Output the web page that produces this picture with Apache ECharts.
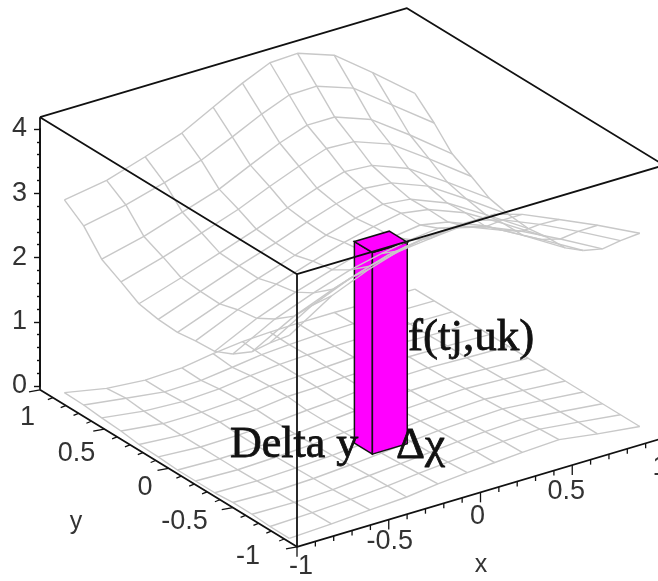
<!DOCTYPE html>
<html>
<head>
<meta charset="utf-8">
<style>html,body{margin:0;padding:0;background:#fff}#c{width:658px;height:581px}</style>
<script src="https://cdn.jsdelivr.net/npm/echarts@6/dist/echarts.min.js"></script>
</head>
<body>
<div id="c"></div>
<script>
// ---- data ----
const xLines = [-1, -0.77, -0.56, -0.36, -0.19, -0.03, 0.12, 0.27, 0.47, 0.68, 0.91];
const yLines = [-0.94, -0.79, -0.65, -0.5, -0.36, -0.21, -0.07, 0.08, 0.23, 0.37, 0.52, 0.66, 0.81];
const upperZ = [
  [3.17,3.59,3.84,4.02,4.09,4.11,4.11,3.98,3.73,3.46,3.14],
  [2.87,3.26,3.51,3.69,3.77,3.81,3.83,3.71,3.47,3.18,2.84],
  [2.56,2.92,3.16,3.35,3.45,3.50,3.54,3.43,3.19,2.89,2.54],
  [2.34,2.69,2.92,3.11,3.22,3.30,3.35,3.25,3.02,2.70,2.33],
  [2.21,2.53,2.76,2.94,3.08,3.17,3.23,3.15,2.92,2.59,2.20],
  [2.19,2.48,2.70,2.89,3.04,3.15,3.23,3.16,2.94,2.59,2.19],
  [2.15,2.40,2.62,2.81,2.98,3.11,3.20,3.15,2.92,2.56,2.15],
  [2.17,2.41,2.63,2.82,3.00,3.15,3.26,3.22,3.00,2.62,2.18],
  [2.23,2.44,2.65,2.85,3.04,3.21,3.34,3.31,3.09,2.70,2.25],
  [2.40,2.59,2.79,2.99,3.20,3.38,3.53,3.51,3.30,2.89,2.42],
  [2.57,2.73,2.93,3.12,3.35,3.56,3.71,3.71,3.50,3.08,2.59],
  [2.92,3.05,3.22,3.40,3.62,3.84,4.01,4.02,3.82,3.38,2.90],
  [3.14,3.25,3.44,3.64,3.90,4.14,4.33,4.35,4.15,3.70,3.18]
];
const lowerZ = [
  [0,0.03,0.07,0.10,0.16,0.20,0.23,0.26,0.29,0.20,0.12],
  [0,0.02,0.05,0.09,0.14,0.18,0.22,0.25,0.27,0.20,0.12],
  [0.02,0.01,0.03,0.08,0.12,0.16,0.20,0.23,0.25,0.19,0.12],
  [0.02,0,0.02,0.06,0.10,0.15,0.19,0.21,0.23,0.18,0.12],
  [0,-0.01,0.01,0.04,0.08,0.13,0.17,0.19,0.21,0.17,0.12],
  [0,-0.02,0,0.03,0.07,0.11,0.15,0.17,0.19,0.16,0.12],
  [0,-0.02,-0.01,0.02,0.06,0.10,0.13,0.16,0.17,0.15,0.12],
  [0.02,-0.02,-0.01,0.02,0.06,0.09,0.13,0.15,0.16,0.14,0.12],
  [0.03,-0.02,0.01,0.03,0.09,0.10,0.13,0.14,0.15,0.14,0.12],
  [0.07,-0.01,-0.01,0.02,0.08,0.10,0.12,0.14,0.15,0.13,0.12],
  [0.09,0,-0.03,0,0.06,0.10,0.12,0.13,0.14,0.13,0.12],
  [0.12,0.03,-0.05,-0.04,0.02,0.08,0.11,0.13,0.14,0.13,0.12],
  [0.13,0,-0.05,-0.03,0.05,0.10,0.12,0.13,0.13,0.12,0.12]
];
const barX = [-0.19, 0];
const barY = [-0.43, -0.29];
const barBase = 0;
const barTop = 3.15;
const boxZ = [-0.06, 4.2];
const xTickLabels = ['-1', '-0.5', '0', '0.5', '1'];
const yTickLabels = ['-1', '-0.5', '0', '0.5', '1'];
const zTicks = [0, 1, 2, 3, 4];
const axisSteps = [-1,-0.9,-0.8,-0.7,-0.6,-0.5,-0.4,-0.3,-0.2,-0.1,0,0.1,0.2,0.3,0.4,0.5,0.6,0.7,0.8,0.9,1];

// ---- view (orthographic projection of the box on the page) ----
function project(x, y, z) {
  const X = x + 1, Y = y + 1;
  return [297 + 183.5 * X - 128.5 * Y, 543 - 54.5 * X - 78.5 * Y - 64 * z];
}
const MESH = '#c8c8c8', INK = '#111', TXT = '#333';
const SANS = '"Liberation Sans", Arial, sans-serif', SERIF = '"Liberation Serif", serif';
const xLabelOff = [[4,20],[1,22],[-3,24],[-6,26],[-4,30]];
const yLabelOff = [[-37,10],[-25,14],[-16,19],[-9,24],[-5,28]];

function lineSeries(pts, color, width, z) {
  return {type:'line', xAxisIndex:0, yAxisIndex:0, data:pts, symbol:'none', showSymbol:false, clip:false,
    silent:true, animation:false, z:z, lineStyle:{color:color, width:width}};
}
function meshSeries(grid, front) {
  // front: null = all lines; true/false = only the part nearer / farther than the bar
  const out = [], split = 3;
  grid.forEach((row, j) => {
    if (front === true && j > split) return;
    if (front === false && j <= split) return;
    out.push(row.map((z, i) => project(xLines[i], yLines[j], z)));
  });
  xLines.forEach((x, i) => {
    let from = 0, to = grid.length - 1;
    if (front === true) to = split;
    if (front === false) from = split;
    const pts = [];
    for (let j = from; j <= to; j++) pts.push(project(x, yLines[j], grid[j][i]));
    out.push(pts);
  });
  return out;
}

const series = [];
meshSeries(lowerZ, null).forEach(p => series.push(lineSeries(p, MESH, 1.4, 2)));
meshSeries(upperZ, false).forEach(p => series.push(lineSeries(p, MESH, 1.4, 3)));

// bar
const [bx0, bx1] = barX, [by0, by1] = barY;
const barFaces = [
  [[bx0,by0,barBase],[bx0,by1,barBase],[bx0,by1,barTop],[bx0,by0,barTop]],
  [[bx0,by0,barBase],[bx1,by0,barBase],[bx1,by0,barTop],[bx0,by0,barTop]],
  [[bx0,by0,barTop],[bx1,by0,barTop],[bx1,by1,barTop],[bx0,by1,barTop]]
];
series.push({type:'custom', xAxisIndex:0, yAxisIndex:0, coordinateSystem:'cartesian2d', clip:false, silent:true,
  animation:false, z:4, data:barFaces.map((f,i)=>[i]), encode:{x:0,y:0},
  renderItem:(params, api) => ({type:'polygon',
    shape:{points:barFaces[api.value(0)].map(c => api.coord(project(c[0],c[1],c[2])))},
    style:{fill:'#ff00ff', stroke:INK, lineWidth:1.5}})});

meshSeries(upperZ, true).forEach(p => series.push(lineSeries(p, MESH, 1.4, 5)));

// box
const corner = (x,y,z) => project(x,y,z);
const zb = boxZ[0], zt = boxZ[1];
[
  [corner(-1,1,zt), corner(-1,-1,zt), corner(1,-1,zt), corner(1,1,zt), corner(-1,1,zt)],
  [corner(-1,1,zb), corner(-1,1,zt)],
  [corner(-1,-1,zb), corner(-1,-1,zt)],
  [corner(-1,1,zb), corner(-1,-1,zb), corner(1,-1,zb)]
].forEach(p => series.push(lineSeries(p, INK, 1.8, 6)));

// ticks on the x and y edges of the box
const segs = [];
axisSteps.forEach(v => {
  const major = Math.abs(v * 2 - Math.round(v * 2)) < 1e-6;
  const px = project(v, -1, zb);
  segs.push([px[0], px[1], px[0], px[1] + (major ? 10 : 5)]);
  const py = project(-1, v, zb);
  segs.push([py[0], py[1], py[0] + (major ? -11 : -5), py[1] + 2]);
});
series.push({type:'custom', xAxisIndex:0, yAxisIndex:0, coordinateSystem:'cartesian2d', clip:false, silent:true,
  animation:false, z:6, data:segs, encode:{x:[0,2],y:[1,3]},
  renderItem:(params, api) => {
    const a = api.coord([api.value(0), api.value(1)]), b = api.coord([api.value(2), api.value(3)]);
    return {type:'line', shape:{x1:a[0],y1:a[1],x2:b[0],y2:b[1]}, style:{stroke:INK, lineWidth:1.3}};
  }});

// tick labels on the x and y edges
const labels = [];
xTickLabels.forEach((t, k) => {
  const p = project(+t, -1, zb), o = xLabelOff[k];
  labels.push({t, x:p[0]+o[0], y:p[1]+o[1], a:'center'});
});
yTickLabels.forEach((t, k) => {
  const p = project(-1, +t, zb), o = yLabelOff[k];
  labels.push({t, x:p[0]+o[0], y:p[1]+o[1], a:'right'});
});
series.push({type:'custom', xAxisIndex:0, yAxisIndex:0, coordinateSystem:'cartesian2d', clip:false, silent:true,
  animation:false, z:7, data:labels.map(l=>[l.x,l.y]), encode:{x:0,y:1},
  renderItem:(params, api) => {
    const l = labels[params.dataIndex], c = api.coord([l.x,l.y]);
    return {type:'text', style:{text:l.t, x:c[0], y:c[1], align:l.a, verticalAlign:'middle',
      font:'27px '+SANS, fill:TXT}};
  }});

// empty series so that the z axis grid has an owner
series.push({type:'line', xAxisIndex:1, yAxisIndex:1, data:[], silent:true, animation:false});

const chart = echarts.init(document.getElementById('c'), null, {renderer:'canvas'});
chart.setOption({
  backgroundColor:'#fff', animation:false, tooltip:{show:false}, legend:{show:false},
  grid:[
    {left:0, right:0, top:0, bottom:0},
    {left:40, width:1, top:129, height:257}
  ],
  xAxis:[
    {type:'value', gridIndex:0, min:0, max:658, show:false},
    {type:'value', gridIndex:1, min:0, max:1, show:false}
  ],
  yAxis:[
    {type:'value', gridIndex:0, min:0, max:581, inverse:true, show:false},
    {type:'value', gridIndex:1, min:zTicks[0], max:zTicks[zTicks.length-1], interval:1, position:'left',
      axisLine:{show:true, onZero:false, lineStyle:{color:INK, width:1.8}},
      axisTick:{show:true, length:6, lineStyle:{color:INK, width:1.4}},
      minorTick:{show:true, splitNumber:5, length:3, lineStyle:{color:INK, width:1.4}},
      splitLine:{show:false},
      axisLabel:{show:true, margin:13, fontSize:27, fontFamily:SANS, color:TXT, showMinLabel:true, showMaxLabel:true}}
  ],
  series:series,
  graphic:{elements:[
    {type:'text', z:20, silent:true, style:{text:'f(tj,uk)', x:408, y:338, verticalAlign:'middle', font:'45px '+SERIF, fill:'#111', stroke:'#111', lineWidth:0.8}},
    {type:'text', z:20, silent:true, style:{text:'Delta y', x:230, y:445, verticalAlign:'middle', font:'44px '+SERIF, fill:'#111', stroke:'#111', lineWidth:0.8}},
    {type:'text', z:20, silent:true, style:{text:'\u0394\u03c7', x:396, y:446, verticalAlign:'middle', font:'45px '+SERIF, fill:'#111', stroke:'#111', lineWidth:0.8}},
    {type:'text', z:20, silent:true, style:{text:'x', x:481, y:565, align:'center', verticalAlign:'middle', font:'25px '+SANS, fill:TXT}},
    {type:'text', z:20, silent:true, style:{text:'y', x:76, y:522, align:'center', verticalAlign:'middle', font:'25px '+SANS, fill:TXT}}
  ]}
});
</script>
</body>
</html>
